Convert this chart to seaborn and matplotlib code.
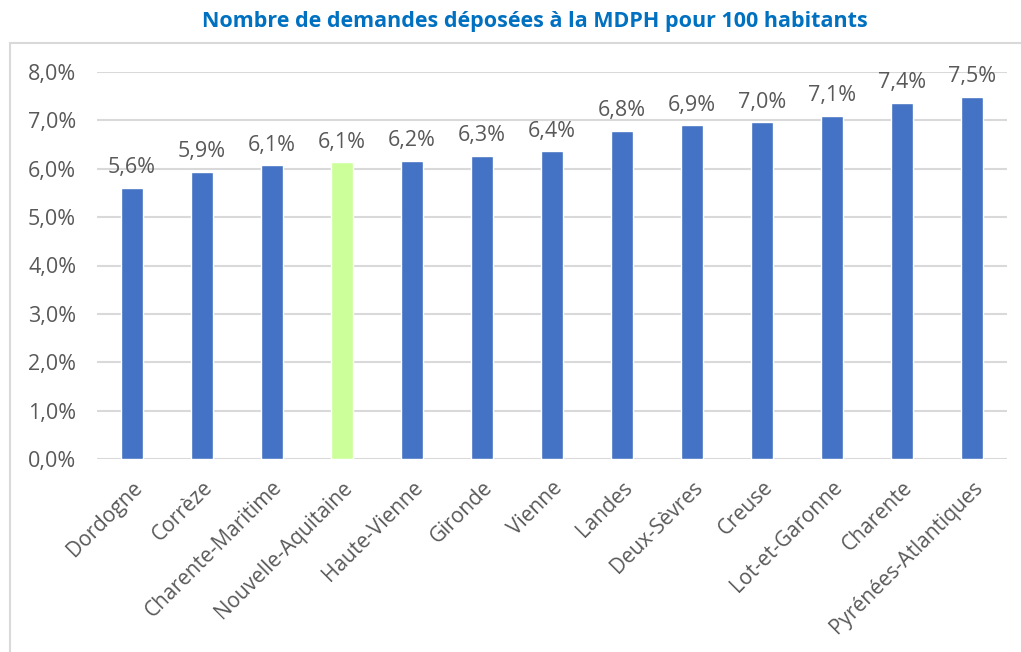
import numpy as np
import pandas as pd
import seaborn as sns
import matplotlib.pyplot as plt
from matplotlib.patches import Rectangle

# data
departements = ['Dordogne', 'Corrèze', 'Charente-Maritime', 'Nouvelle-Aquitaine',
                'Haute-Vienne', 'Gironde', 'Vienne', 'Landes', 'Deux-Sèvres',
                'Creuse', 'Lot-et-Garonne', 'Charente', 'Pyrénées-Atlantiques']
taux = [5.60, 5.93, 6.07, 6.13, 6.16, 6.26, 6.36, 6.78, 6.90, 6.96, 7.09, 7.36, 7.48]
highlight = 'Nouvelle-Aquitaine'

df = pd.DataFrame({'dep': departements, 'taux': taux})

sns.set_theme(style='white')
plt.rcParams['font.family'] = ['Open Sans', 'DejaVu Sans']

fig = plt.figure(figsize=(10.21, 6.52), dpi=100)
ax = fig.add_axes([97 / 1021, 193 / 652, 910 / 1021, 387 / 652])

couleurs = ['#CCFF99' if d == highlight else '#4472C4' for d in departements]
sns.barplot(data=df, x='dep', y='taux', hue='dep', palette=couleurs,
            legend=False, width=0.31, saturation=1, ax=ax, zorder=3)

ax.set_ylim(0, 8)
ax.set_yticks(np.arange(0, 9, 1))
ax.set_yticklabels([f'{v:.1f}%'.replace('.', ',') for v in np.arange(0, 9, 1)])
ax.yaxis.grid(True, color='#D9D9D9', linewidth=1.5, zorder=0)
ax.set_axisbelow(True)
for s in ax.spines.values():
    s.set_visible(False)
ax.set_xlabel('')
ax.set_ylabel('')
ax.tick_params(axis='y', colors='#595959', labelsize=15.5, length=0, pad=15)
ax.tick_params(axis='x', colors='#595959', labelsize=15, length=0, pad=13)
plt.setp(ax.get_xticklabels(), rotation=45, ha='right', rotation_mode='anchor')

for i, v in enumerate(taux):
    ax.text(i, v + 0.2, f'{v:.1f}%'.replace('.', ','), ha='center', va='bottom',
            fontsize=15.5, color='#595959')

fig.text(535 / 1021, 1 - 22 / 652, 'Nombre de demandes déposées à la MDPH pour 100 habitants',
         ha='center', va='center', fontsize=15.5, fontweight='bold', color='#0070C0')

# chart frame
fig.patches.append(Rectangle((10 / 1021, -0.05), 1.1, 1 - 43 / 652 + 0.05,
                             transform=fig.transFigure, fill=False,
                             edgecolor='#D9D9D9', linewidth=1.5))

fig.savefig('out.png', dpi=100)
